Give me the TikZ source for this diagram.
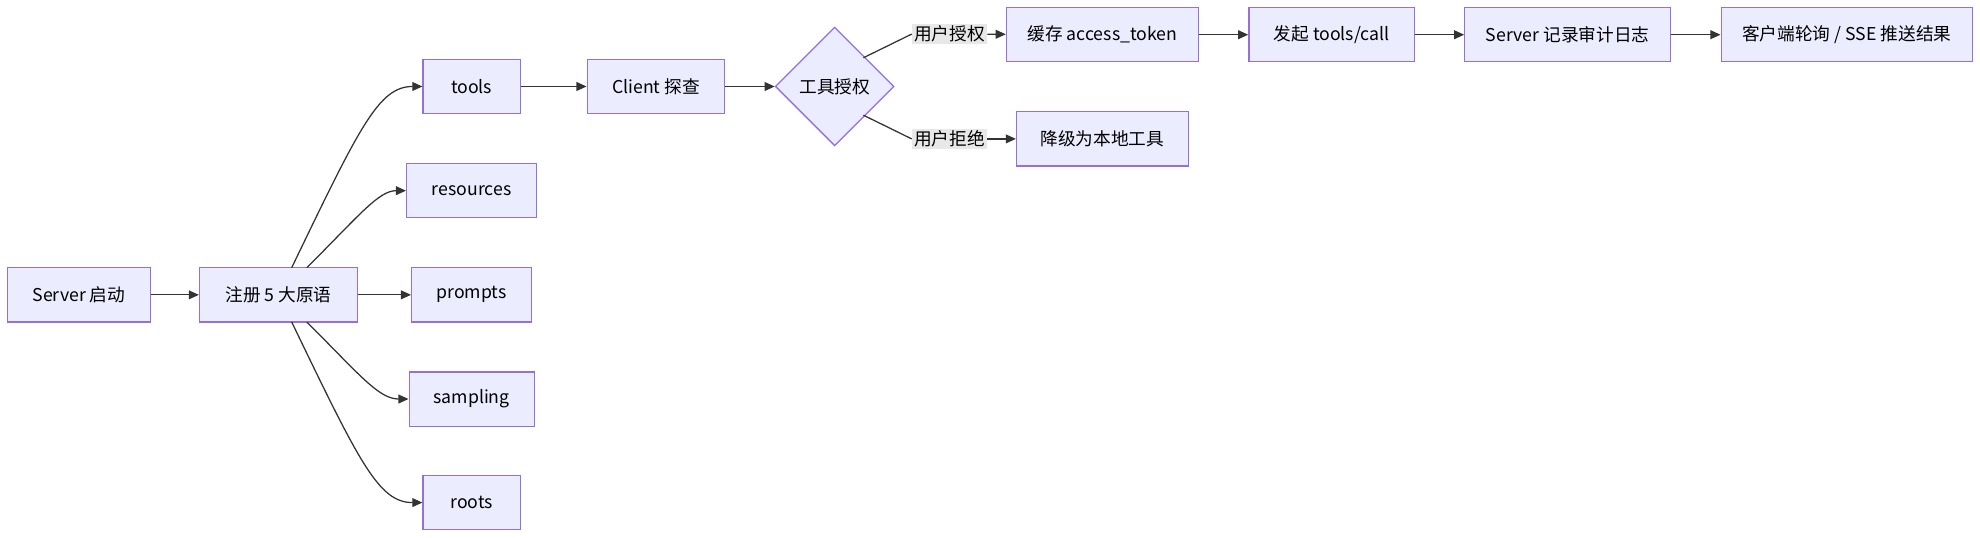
\documentclass[tikz,border=0pt]{standalone}
\usepackage{fontspec}
\setmainfont{Noto Sans CJK SC}
\usetikzlibrary{shapes.geometric,arrows.meta}
\definecolor{boxfill}{HTML}{ECECFF}
\definecolor{boxline}{HTML}{9370DB}
\definecolor{edge}{HTML}{333333}
\definecolor{lblbg}{HTML}{E8E8E8}
\tikzset{
  box/.style={draw=boxline, fill=boxfill, line width=0.5pt, minimum height=21.5pt, inner sep=0pt, font=\fontsize{7}{8}\selectfont},
  gate/.style={diamond, draw=boxline, fill=boxfill, line width=0.5pt, minimum width=47pt, minimum height=47pt, inner sep=0pt, font=\fontsize{7}{8}\selectfont},
  lbl/.style={fill=lblbg, inner sep=0.8pt, font=\fontsize{7}{8}\selectfont},
  flow/.style={draw=edge, line width=0.5pt, -{Triangle[length=4pt,width=3.5pt]}},
  flat/.style={draw=edge, line width=0.5pt}
}
\begin{document}
\begin{tikzpicture}[x=0.5pt, y=-0.5pt]
    \useasboundingbox (0,0) rectangle (1568,426);

    % Start and primitives
    \node[box, minimum width=56.5pt] (start) at (62.5,233.5) {Server 启动};
    \node[box, minimum width=62.5pt] (reg) at (220.5,233.5) {注册 5 大原语};
    \node[box, minimum width=38.5pt] (tools) at (373.5,68.5) {tools};
    \node[box, minimum width=51.5pt] (res) at (373.5,151) {resources};
    \node[box, minimum width=47.5pt] (prompts) at (373.5,233.5) {prompts};
    \node[box, minimum width=49.5pt] (sampling) at (373.5,316) {sampling};
    \node[box, minimum width=38.5pt] (roots) at (373.5,398) {roots};

    % Client side
    \node[box, minimum width=54.5pt] (probe) at (519.5,68.5) {Client 探查};
    \node[gate] (auth) at (661,68.5) {工具授权};
    \node[lbl] (yes) at (752,27) {用户授权};
    \node[lbl] (no) at (752,110) {用户拒绝};
    \node[box, minimum width=76pt] (cache) at (873,27.5) {缓存 access\_token};
    \node[box, minimum width=68pt] (fallback) at (873,110) {降级为本地工具};
    \node[box, minimum width=65.5pt] (call) at (1054.5,27.5) {发起 tools/call};
    \node[box, minimum width=81.5pt] (audit) at (1241.5,27.5) {Server 记录审计日志};
    \node[box, minimum width=99.5pt] (poll) at (1462.5,27.5) {客户端轮询 / SSE 推送结果};

    % Connectors
    \coordinate (r1) at (231,212);
    \coordinate (r2) at (243,212);
    \coordinate (r4) at (243,255);
    \coordinate (r5) at (231,255);
    \draw[flow] (start) -- (reg);
    \draw[flow] (r1) .. controls (285,100) and (300,68.5) .. (tools.west);
    \draw[flow] (r2) .. controls (285,170) and (300,151) .. (res.west);
    \draw[flow] (reg) -- (prompts);
    \draw[flow] (r4) .. controls (285,297) and (300,316) .. (sampling.west);
    \draw[flow] (r5) .. controls (285,367) and (300,398) .. (roots.west);
    \draw[flow] (tools) -- (probe);
    \draw[flow] (probe) -- (auth);
    \draw[flat] (auth.north east) ++(-1,1) -- (yes.west);
    \draw[flow] (yes) -- (cache);
    \draw[flat] (auth.south east) ++(-1,-1) -- (no.west);
    \draw[flow] (no) -- (fallback);
    \draw[flow] (cache) -- (call);
    \draw[flow] (call) -- (audit);
    \draw[flow] (audit) -- (poll);
\end{tikzpicture}
\end{document}
